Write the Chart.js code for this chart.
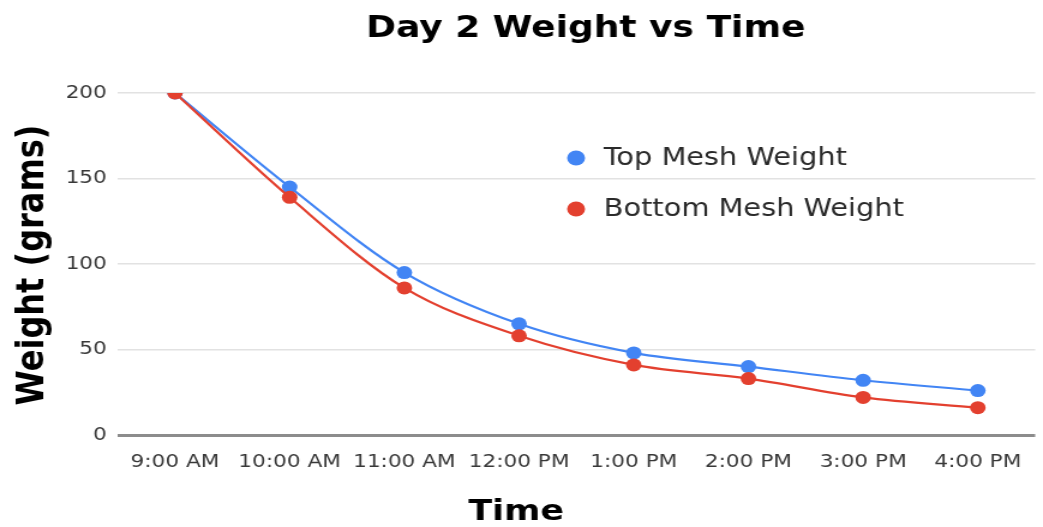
<!DOCTYPE html>
<html>
<head>
<meta charset="utf-8">
<script src="https://cdn.jsdelivr.net/npm/chart.js@4"></script>
<style>
  html, body { margin: 0; padding: 0; background: #ffffff; overflow: hidden; }
  #wrap { width: 1043px; height: 527px; overflow: hidden; }
  /* the chart is laid out narrow and widened horizontally */
  #chart { display: block; transform: scaleX(1.2002); transform-origin: 0 0; }
</style>
</head>
<body>
<div id="wrap"><canvas id="chart" width="869" height="527"></canvas></div>
<script>
const categories = ['9:00 AM', '10:00 AM', '11:00 AM', '12:00 PM', '1:00 PM', '2:00 PM', '3:00 PM', '4:00 PM'];
const topMeshWeight = [200, 145, 95, 65, 48, 40, 32, 26];
const bottomMeshWeight = [200, 139, 86, 58, 41, 33, 22, 16];
const seriesNames = ['Top Mesh Weight', 'Bottom Mesh Weight'];
const seriesColors = ['#4285F4', '#E3402F'];

const chartTitle = 'Day 2 Weight vs Time';
const xTitle = 'Time';
const yTitle = 'Weight (grams)';

const FONT = '"DejaVu Sans", Verdana, sans-serif';

// titles and the in-plot legend
const decorations = {
  id: 'decorations',
  afterDraw(chart) {
    const ctx = chart.ctx;
    const area = chart.chartArea;
    ctx.save();
    ctx.fillStyle = '#000000';
    ctx.textAlign = 'center';
    ctx.textBaseline = 'alphabetic';

    ctx.font = 'bold 30px ' + FONT;
    ctx.fillText(chartTitle, 488, 37);

    ctx.font = 'bold 29px ' + FONT;
    ctx.fillText(xTitle, 430, 520);

    ctx.save();
    ctx.translate(36, (area.top + area.bottom) / 2 + 1);
    ctx.rotate(-Math.PI / 2);
    ctx.font = 'bold 32px ' + FONT;
    ctx.fillText(yTitle, 0, 0);
    ctx.restore();

    // legend
    ctx.textAlign = 'left';
    ctx.textBaseline = 'middle';
    ctx.font = '24px ' + FONT;
    chart.data.datasets.forEach((ds, i) => {
      const y = 158 + i * 51;
      ctx.beginPath();
      ctx.arc(480, y, 7.5, 0, Math.PI * 2);
      ctx.fillStyle = ds.backgroundColor;
      ctx.fill();
      ctx.fillStyle = '#2a2a2a';
      ctx.fillText(ds.label, 503, y + 1);
    });
    ctx.restore();
  }
};

new Chart(document.getElementById('chart'), {
  type: 'line',
  data: {
    labels: categories,
    datasets: [
      {
        label: seriesNames[0],
        data: topMeshWeight,
        borderColor: seriesColors[0],
        backgroundColor: seriesColors[0],
        order: 1
      },
      {
        label: seriesNames[1],
        data: bottomMeshWeight,
        borderColor: seriesColors[1],
        backgroundColor: seriesColors[1],
        order: 0
      }
    ]
  },
  options: {
    responsive: false,
    animation: false,
    devicePixelRatio: 1,
    layout: { padding: { top: 93, right: 0, bottom: 0, left: 0 } },
    elements: {
      line: { borderWidth: 2.2, cubicInterpolationMode: 'monotone', fill: false },
      point: { radius: 6.5, borderWidth: 0, hoverRadius: 6.5 }
    },
    plugins: {
      legend: { display: false },
      title: { display: false },
      tooltip: { enabled: false }
    },
    scales: {
      x: {
        offset: true,
        grid: { display: false, drawTicks: false },
        border: { display: false },
        ticks: {
          color: '#383838',
          font: { family: FONT, size: 18 },
          padding: 17,
          maxRotation: 0,
          autoSkip: false
        },
        afterFit(scale) { scale.height = 92; }
      },
      y: {
        min: 0,
        max: 200,
        grid: {
          drawTicks: false,
          color: (c) => c.tick && c.tick.value === 0 ? '#8c8c8c' : '#e2e2e2',
          lineWidth: (c) => c.tick && c.tick.value === 0 ? 3 : 1.5
        },
        border: { display: false },
        ticks: {
          stepSize: 50,
          color: '#383838',
          font: { family: FONT, size: 18 },
          padding: 9
        },
        afterFit(scale) { scale.width = 98; }
      }
    }
  },
  plugins: [decorations]
});
</script>
</body>
</html>
